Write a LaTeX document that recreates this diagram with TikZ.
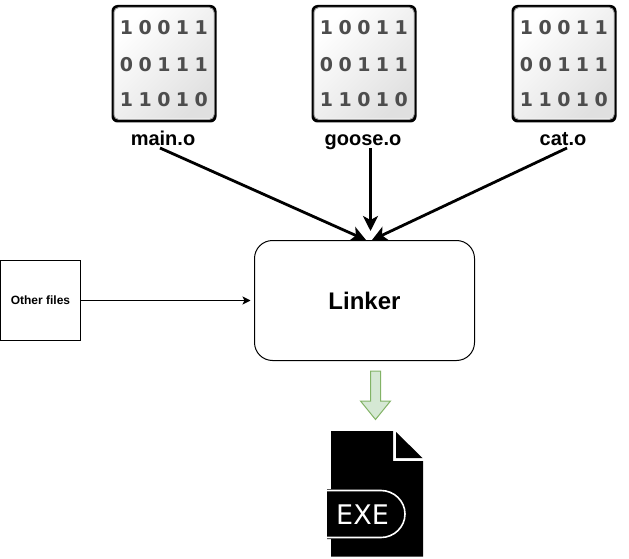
\documentclass[tikz,border=0pt]{standalone}
\usepackage{fontspec}
\setmainfont{Liberation Sans}
\newfontfamily\digitfont{DejaVu Sans}
\usetikzlibrary{arrows.meta,calc}
\definecolor{digitgray}{HTML}{4D4D4D}
\definecolor{greenfill}{HTML}{D5E8D4}
\definecolor{greenline}{HTML}{82B366}
\tikzset{
  bigarrow/.style={draw=black,line width=2.8pt,-{Stealth[length=15pt,width=15pt,inset=4pt]}},
  thinarrow/.style={draw=black,line width=1pt,-{Stealth[length=8pt,width=8pt,inset=2pt]}},
  objlabel/.style={font=\bfseries\fontsize{20}{20}\selectfont,inner sep=0pt,anchor=base},
  digit/.style={font=\digitfont\bfseries\fontsize{19}{19}\selectfont,text=digitgray,inner sep=0pt,anchor=center},
  pics/objfile/.style n args={3}{code={
    \fill[black,rounded corners=6pt] (0,0) rectangle (105,117.5);
    \draw[black!35,line width=1pt,rounded corners=5pt,fill=white] (2.5,2.5) rectangle (102.5,114.5);
    \shade[left color=white,right color=black!12,rounded corners=4pt,shading angle=45] (3.5,3.5) rectangle (101.5,113.5);
    \foreach \t [count=\i from 0] in {#1} {\node[digit] at ({15+18.7*\i},22.5) {\t};}
    \foreach \t [count=\i from 0] in {#2} {\node[digit] at ({15+18.7*\i},59.5) {\t};}
    \foreach \t [count=\i from 0] in {#3} {\node[digit] at ({15+18.7*\i},95) {\t};}
  }}
}
\begin{document}
\begin{tikzpicture}[x=1pt,y=-1pt]
\useasboundingbox[fill=white] (0,0) rectangle (629,559);
\pic at (111.5,5) {objfile={1,0,0,1,1}{0,0,1,1,1}{1,1,0,1,0}};
\pic at (311.5,5) {objfile={1,0,0,1,1}{0,0,1,1,1}{1,1,0,1,0}};
\pic at (511.5,5) {objfile={1,0,0,1,1}{0,0,1,1,1}{1,1,0,1,0}};
\node[objlabel] (mainlabel) at (163,146) {main.o};
\node[objlabel] (gooselabel) at (363,146) {goose.o};
\node[objlabel] (catlabel) at (563,146) {cat.o};
\node[draw=black,line width=1pt,rounded corners=18pt,minimum width=220pt,minimum height=120pt,inner sep=0pt,font=\bfseries\fontsize{24}{24}\selectfont] (linker) at (364.5,300.5) {Linker};
\node[draw=black,line width=1pt,minimum width=80pt,minimum height=80pt,inner sep=0pt,font=\bfseries\fontsize{12}{12}\selectfont] (other) at (40.5,300.5) {Other files};
\coordinate (mainfrom) at (160,148);
\coordinate (goosefrom) at (370.5,148);
\coordinate (catfrom) at (567,148);
\coordinate (mainto) at (366,240);
\coordinate (gooseto) at (370.5,231);
\coordinate (catto) at (372,240);
\coordinate (otherto) at (250.5,300.5);
\draw[bigarrow] (mainfrom) -- (mainto);
\draw[bigarrow] (goosefrom) -- (gooseto);
\draw[bigarrow] (catfrom) -- (catto);
\draw[thinarrow] (other.east) -- (otherto);
% green block arrow
\draw[draw=greenline,fill=greenfill,line width=1pt] (370.5,371) -- (380.5,371) -- (380.5,401) -- (390.5,401) -- (375.5,419.5) -- (360.5,401) -- (370.5,401) -- cycle;
% EXE file icon
\fill[black] (331,431) -- (393,431) -- (393,461) -- (423,461) -- (423,556.5) -- (331,556.5) -- cycle;
\fill[black] (396,432) -- (422.5,458) -- (396,458) -- cycle;
\fill[white] (326,486) rectangle (331,541);
\fill[black] (327,489) -- (381,489) .. controls (395,489) and (406.5,500) .. (406.5,514) .. controls (406.5,528) and (395,539) .. (381,539) -- (327,539) -- cycle;
\draw[white,line width=1.6pt] (327,490.5) -- (381,490.5) .. controls (394,490.5) and (405,501) .. (405,514) .. controls (405,527) and (394,537.5) .. (381,537.5) -- (327,537.5);
\node[font=\digitfont\fontsize{27}{27}\selectfont,text=white,inner sep=0pt] (exetext) at (362.5,515) {EXE};
\end{tikzpicture}
\end{document}
